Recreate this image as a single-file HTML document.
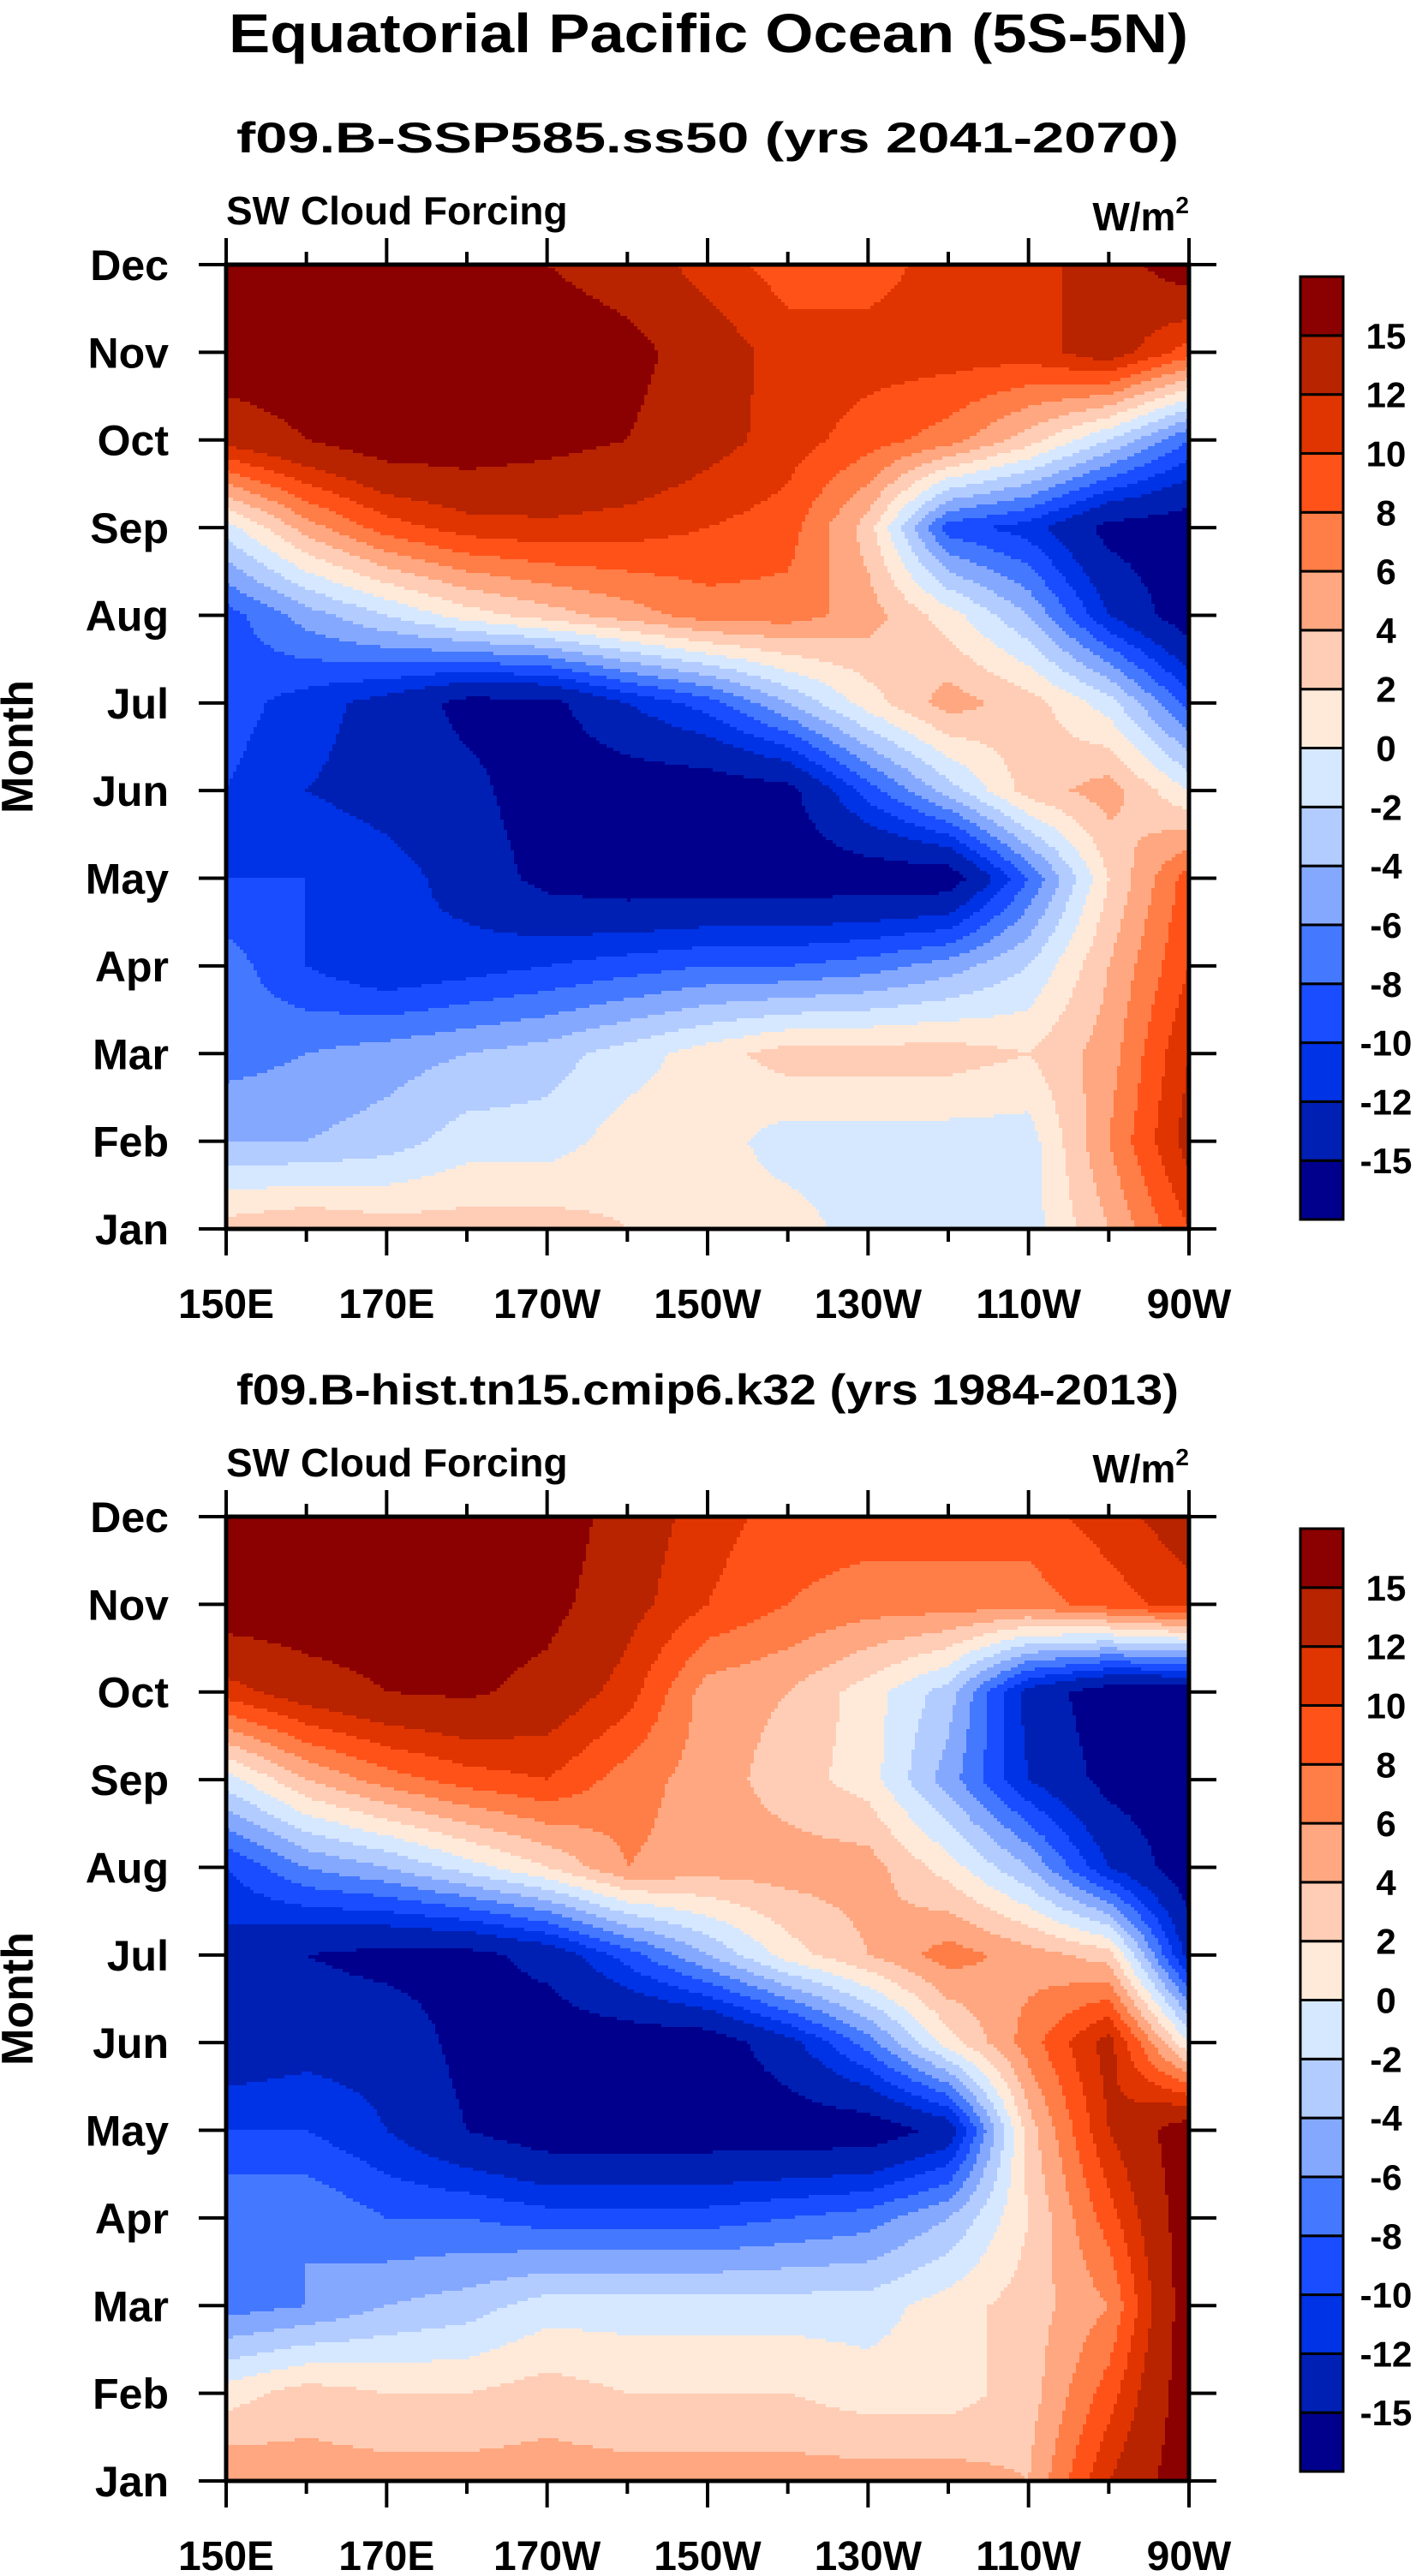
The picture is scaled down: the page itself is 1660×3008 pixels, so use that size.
<!DOCTYPE html>
<html><head><meta charset="utf-8"><style>
html,body{margin:0;padding:0;background:#fff}
svg{display:block}
text{font-family:"Liberation Sans",Arial,sans-serif;font-weight:bold;fill:#000}
</style></head><body>
<svg id="fig" width="1660" height="3008" viewBox="0 0 1660 3008" xmlns="http://www.w3.org/2000/svg">
<text x="827" y="61" font-size="64" text-anchor="middle" textLength="1120" lengthAdjust="spacingAndGlyphs">Equatorial Pacific Ocean (5S-5N)</text>
</svg>
<script>
const lons = [150,160,170,180,190,200,210,220,230,240,250,260,270];
const months = ['Jan','Feb','Mar','Apr','May','Jun','Jul','Aug','Sep','Oct','Nov','Dec'];
const xTickLabels = ['150E','170E','170W','150W','130W','110W','90W'];
const levels = [-15,-12,-10,-8,-6,-4,-2,0,2,4,6,8,10,12,15];
const levelLabels = ['-15','-12','-10','-8','-6','-4','-2','0','2','4','6','8','10','12','15'];
const colors = ['#00008c','#0020b4','#0033e6','#1a4dff','#4478ff','#85a8ff','#b3ccff','#d6e8ff','#ffeada','#ffcdb5','#ffa780','#ff7d47','#ff5219','#e03500','#b82300','#8b0000'];
// rows: Jan..Dec, columns: lons
const sspValues = [
 [3,4,3,3,3,2,1,1,-1,-1,-1,4,10],
 [-4,-4,-3,-1,-1,1,1,-1,-1,-1,-1,6,13],
 [-7,-6,-5,-4,-3,-1,1,3,3,3,2,5,12],
 [-7,-10,-12,-11,-10,-9,-8,-8,-7,-5,-2,4,10],
 [-10,-10,-11,-13,-16,-17,-17,-17,-17,-17,-8,2,9],
 [-10,-12,-13,-14,-17,-17,-17,-16,-9,-3,3,5,0],
 [-9,-11,-13,-16,-16,-12,-9,-4,1,5,3,-1,-9],
 [-9,-5,-2,1,3,5,7,7,5,1,-4,-12,-17],
 [-1,5,9,11,11.5,11,10,9,3,-9,-11,-16,-17],
 [13,15,17,17,16,15,13,11,9,7,3,-2,-8],
 [17,17,17,17,17,16,13.5,11,11,11,11,13.5,9],
 [17,17,17,17,15,13.5,11,9,9,11,11,13.5,17]
];
const histValues = [
 [6,5,5,5,5,5,5,5,5,5,4,12,17],
 [1,3,2,2,3,2,2,2,1,1,3,9,17],
 [-7,-6,-4,-3,-1,-1,-1,-1,-1,1,3,6,17],
 [-6,-6,-8,-8,-9,-9,-9,-8,-7,-4,2,9,17],
 [-10,-10,-12,-15,-17,-17,-17,-17,-17,-14,3,12,17],
 [-14,-13,-13,-16,-17,-17,-17,-13,-7,1,7,13,0],
 [-13,-15,-16,-16,-14,-9,-4,1,4,7,5,3,-13],
 [-10,-6,-4,-1,2,6,5,5,5,1,-4,-12,-17],
 [-1,4,7,9,10,7,5,3,1,-5,-12,-16,-17],
 [11,13.5,15,15.5,14,11,5,4,1,-3,-13,-17,-17],
 [17,17,17,17,16,13,10,8,7,7,7,9,11],
 [17,17,17,17,17,13.5,11,9,9,9,9,11,13.5]
];

const NS='http://www.w3.org/2000/svg';
const svg=document.getElementById('fig');
function mk(tag,attrs,parent){const e=document.createElementNS(NS,tag);for(const k in attrs)e.setAttribute(k,attrs[k]);(parent||svg).appendChild(e);return e;}
function colorFor(v){let i=0;while(i<levels.length&&v>=levels[i])i++;return colors[i];}

const X0=264,X1=1388;
function xScale(lon){return X0+(lon-150)/120*(X1-X0);}

function panel(top,values,subtitle,name){
  const Y0=top, Y1=top+1126;
  const yScale=m=>Y1-m/11*(Y1-Y0);
  const g=mk('g',{});
  
  
  const st=mk('text',{x:826,y:top-131,'font-size':50,'text-anchor':'middle',textLength:1100,lengthAdjust:'spacingAndGlyphs'},g);
  st.textContent=subtitle;
  
  
  const lt=mk('text',{x:264,y:top-47,'font-size':46},g);
  lt.textContent='SW Cloud Forcing';
  
  
  const ut=mk('text',{x:1388,y:top-40,'font-size':46,'text-anchor':'end'},g);
  ut.innerHTML='W/m<tspan dy="-20" font-size="28">2</tspan>';
  
  
  const fg=mk('g',{'shape-rendering':'crispEdges'},g);
  
  
  const step=4;
  for(let py=Y0;py<Y1;py+=step){
    const m=Math.min(Math.max((Y1-(py+step/2))/(Y1-Y0)*11,0),11);
    const j=Math.min(Math.floor(m),10), fy=m-j;
    let runStart=X0, runColor=null;
    for(let px=X0;px<=X1;px+=step){
      let c=null;
      if(px<X1){
        const l=Math.min(Math.max((px+step/2-X0)/(X1-X0)*12,0),12);
        const i=Math.min(Math.floor(l),11), fx=l-i;
        const v=(values[j][i]*(1-fx)+values[j][i+1]*fx)*(1-fy)+(values[j+1][i]*(1-fx)+values[j+1][i+1]*fx)*fy;
        c=colorFor(v);
      }
      if(c!==runColor){
        if(runColor){const r=mk('rect',{x:runStart,y:py,width:Math.min(px,X1)-runStart,height:Math.min(step,Y1-py),fill:runColor},fg);
          
          }
        runStart=px;runColor=c;
      }
    }
  }
  const fr=mk('rect',{x:X0,y:Y0,width:X1-X0,height:Y1-Y0,fill:'none',stroke:'#000','stroke-width':5},g);
  
  
  for(let lon=150;lon<=270;lon+=10){
    const x=xScale(lon), major=(lon-150)%20===0, L=major?31:15;
    const t1=mk('line',{x1:x,x2:x,y1:Y0,y2:Y0-L,stroke:'#000','stroke-width':4},g);
    
    
    const t2=mk('line',{x1:x,x2:x,y1:Y1,y2:Y1+L,stroke:'#000','stroke-width':4},g);
    
    
  }
  xTickLabels.forEach((s,k)=>{
    const t=mk('text',{x:xScale(150+20*k),y:Y1+104,'font-size':48,'text-anchor':'middle'},g);
    t.textContent=s;
    
    
  });
  months.forEach((s,k)=>{
    const y=yScale(k);
    const a=mk('line',{x1:X0-32,x2:X0,y1:y,y2:y,stroke:'#000','stroke-width':4},g);
    
    
    const b=mk('line',{x1:X1,x2:X1+32,y1:y,y2:y,stroke:'#000','stroke-width':4},g);
    
    
    const t=mk('text',{x:197,y:y+18,'font-size':50,'text-anchor':'end'},g);
    t.textContent=s;
    
    
  });
  const yt=mk('text',{x:0,y:0,'font-size':52,'text-anchor':'middle',transform:`translate(38,${(Y0+Y1)/2}) rotate(-90)`},g);
  yt.textContent='Month';
  
  
  const cb=mk('g',{},g);
  
  
  const CB0=top+14, CBH=1101/16;
  colors.forEach((c,k)=>{
    const y=CB0+(15-k)*CBH;
    const r=mk('rect',{x:1518,y:y,width:50,height:CBH,fill:c,stroke:'#000','stroke-width':3},cb);
    
    
  });
  levelLabels.forEach((s,k)=>{
    const y=CB0+(15-k)*CBH;
    const t=mk('text',{x:1618,y:y+15,'font-size':42,'text-anchor':'middle'},cb);
    t.textContent=s;
    
    
  });
}
panel(309,sspValues,'f09.B-SSP585.ss50 (yrs 2041-2070)','panel-ssp585');
panel(1771,histValues,'f09.B-hist.tn15.cmip6.k32 (yrs 1984-2013)','panel-historical');
</script>
</body></html>
